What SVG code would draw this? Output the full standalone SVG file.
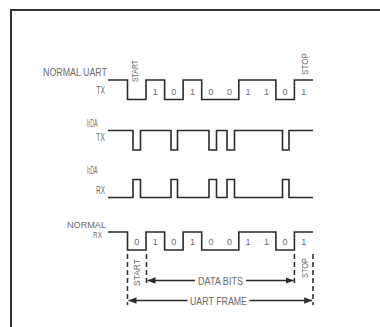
<svg xmlns="http://www.w3.org/2000/svg" width="380" height="327" viewBox="0 0 380 327">
<defs>
<style>
.frame{stroke:#333;stroke-width:2;fill:none}
.wave{stroke:#2a2a2a;stroke-width:1.6;fill:none;stroke-linejoin:miter}
.dash{stroke:#2a2a2a;stroke-width:1.5;fill:none;stroke-dasharray:5,3}
.arr{stroke:#2a2a2a;stroke-width:1.4;fill:none}
text{font-family:"Liberation Sans",Arial,sans-serif;fill:#6a6a6a;font-size:10px}
.lbl{text-anchor:end}
.sm{font-size:9px}
.bit{text-anchor:middle;font-size:9px}
.rot{text-anchor:middle;font-size:9.5px}
.cap{text-anchor:middle;font-size:10px}
</style>
<marker id="ah" viewBox="0 0 10 8" refX="10" refY="4" markerWidth="8" markerHeight="6.4" markerUnits="userSpaceOnUse" orient="auto">
<path d="M0,0 L10,4 L0,8 Z" fill="#2a2a2a"/>
</marker>
</defs>
<g id="frame">
<line class="frame" x1="10" y1="10" x2="380" y2="10"/>
<line class="frame" x1="11" y1="10" x2="11" y2="327"/>
</g>
<g id="uart-tx">
<text class="lbl" x="107" y="76" textLength="64" lengthAdjust="spacingAndGlyphs">NORMAL UART</text>
<text class="lbl" x="105" y="93.5" textLength="8.5" lengthAdjust="spacingAndGlyphs">TX</text>
<path class="wave" d="M108,80 H127.5 V99.5 H146 V80 H164.6 V99.5 H183.1 V80 H201.7 V99.5 H238.8 V80 H275.9 V99.5 H294.4 V80 H313"/>
<text class="rot" transform="translate(137.5,71) rotate(-90)" textLength="22" lengthAdjust="spacingAndGlyphs">START</text>
<text class="rot" transform="translate(308,64) rotate(-90)" textLength="22" lengthAdjust="spacingAndGlyphs">STOP</text>
<text class="bit" x="155.3" y="95">1</text>
<text class="bit" x="173.8" y="95">0</text>
<text class="bit" x="192.4" y="95">1</text>
<text class="bit" x="210.9" y="95">0</text>
<text class="bit" x="229.5" y="95">0</text>
<text class="bit" x="248" y="95">1</text>
<text class="bit" x="266.6" y="95">1</text>
<text class="bit" x="285.1" y="95">0</text>
<text class="bit" x="303.7" y="95">1</text>
</g>
<g id="irda-tx">
<text class="lbl" x="97.5" y="126.5" textLength="10.5" lengthAdjust="spacingAndGlyphs">IrDA</text>
<text class="lbl" x="105" y="141" textLength="9" lengthAdjust="spacingAndGlyphs">TX</text>
<path class="wave" d="M108,130.5 H133 V150 H140.5 V130.5 H171 V150 H177.5 V130.5 H209 V150 H216.5 V130.5 H227 V150 H234.5 V130.5 H282.5 V150 H289 V130.5 H313"/>
</g>
<g id="irda-rx">
<text class="lbl" x="97.5" y="174" textLength="10.5" lengthAdjust="spacingAndGlyphs">IrDA</text>
<text class="lbl" x="105" y="193.5" textLength="9" lengthAdjust="spacingAndGlyphs">RX</text>
<path class="wave" d="M108,197.5 H133 V179.5 H140.5 V197.5 H171 V179.5 H177.5 V197.5 H209 V179.5 H216.5 V197.5 H227 V179.5 H234.5 V197.5 H282.5 V179.5 H289 V197.5 H313"/>
</g>
<g id="uart-rx">
<text class="lbl sm" x="106" y="228" textLength="39" lengthAdjust="spacingAndGlyphs">NORMAL</text>
<text class="lbl sm" x="102" y="237.8" textLength="9" lengthAdjust="spacingAndGlyphs">RX</text>
<path class="wave" d="M108,232 H127.5 V250 H146 V232 H164.6 V250 H183.1 V232 H201.7 V250 H238.8 V232 H275.9 V250 H294.4 V232 H313"/>
<text class="bit" x="136.7" y="245">0</text>
<text class="bit" x="155.3" y="245">1</text>
<text class="bit" x="173.8" y="245">0</text>
<text class="bit" x="192.4" y="245">1</text>
<text class="bit" x="210.9" y="245">0</text>
<text class="bit" x="229.5" y="245">0</text>
<text class="bit" x="248" y="245">1</text>
<text class="bit" x="266.6" y="245">1</text>
<text class="bit" x="285.1" y="245">0</text>
<text class="bit" x="303.7" y="245">1</text>
</g>
<g id="frame-annotation">
<text class="rot" transform="translate(139.5,272.5) rotate(-90)" textLength="27" lengthAdjust="spacingAndGlyphs">START</text>
<text class="rot" transform="translate(307.5,268) rotate(-90)" textLength="20" lengthAdjust="spacingAndGlyphs">STOP</text>
<text class="cap" x="220.5" y="284.5" textLength="45" lengthAdjust="spacingAndGlyphs">DATA BITS</text>
<text class="cap" x="218.5" y="304.5" textLength="57" lengthAdjust="spacingAndGlyphs">UART FRAME</text>
</g>
<g id="connectors">
<line class="dash" x1="127.5" y1="254" x2="127.5" y2="305"/>
<line class="dash" x1="146.5" y1="254" x2="146.5" y2="284"/>
<line class="dash" x1="294.4" y1="254" x2="294.4" y2="284"/>
<line class="dash" x1="313" y1="254" x2="313" y2="305"/>
<line class="arr" x1="195" y1="280.5" x2="147.5" y2="280.5" marker-end="url(#ah)"/>
<line class="arr" x1="246" y1="280.5" x2="293.6" y2="280.5" marker-end="url(#ah)"/>
<line class="arr" x1="187.5" y1="300.5" x2="128.5" y2="300.5" marker-end="url(#ah)"/>
<line class="arr" x1="249.5" y1="300.5" x2="312.2" y2="300.5" marker-end="url(#ah)"/>
</g>
</svg>
